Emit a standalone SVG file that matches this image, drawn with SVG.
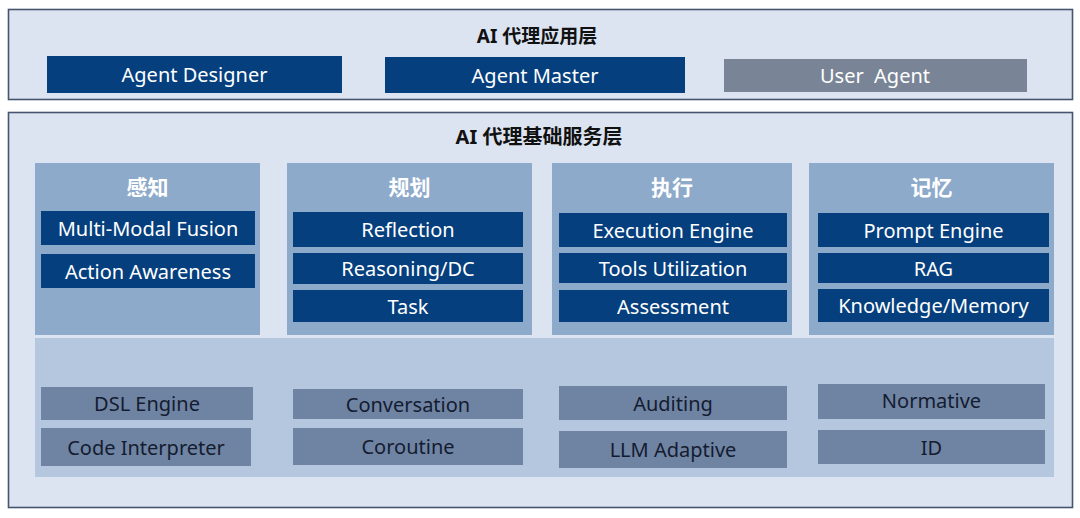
<svg xmlns="http://www.w3.org/2000/svg" width="1080" height="518" viewBox="0 0 1080 518">
<style>
.layer{fill:#dce4f1;stroke:#46556f;stroke-width:1.6}
.title{font-family:"Noto Sans","Noto Sans CJK SC",sans-serif;font-weight:bold;font-size:19px;fill:#111;text-anchor:middle;dominant-baseline:central}
.cat{fill:#8eaacb}
.cath{font-family:"Noto Sans CJK SC","Noto Sans",sans-serif;font-weight:bold;font-size:21px;fill:#fff;text-anchor:middle;dominant-baseline:central}
.dk{fill:#053f7e}
.gr{fill:#798596}
.lt{font-family:"Noto Sans",sans-serif;font-size:20px;fill:#fff;text-anchor:middle;dominant-baseline:central;white-space:pre}
.panel{fill:#b5c6df}
.lo{fill:#6f83a3}
.ltx{font-family:"Noto Sans",sans-serif;font-size:20px;fill:#141c30;text-anchor:middle;dominant-baseline:central}
</style>
<rect width="1080" height="518" fill="#ffffff"/>
<g id="app-layer">
<rect class="layer" x="8.5" y="9.5" width="1064" height="90"/>
<text class="title" x="537" y="36">AI 代理应用层</text>
</g>
<g id="agent-designer"><rect class="dk" x="47" y="56" width="295" height="37"/><text class="lt" x="194.5" y="74.5">Agent Designer</text></g>
<g id="agent-master"><rect class="dk" x="385" y="57" width="300" height="36"/><text class="lt" x="535" y="75">Agent Master</text></g>
<g id="user-agent"><rect class="gr" x="724" y="59" width="303" height="33"/><text class="lt" x="875" y="75.5" xml:space="preserve">User  Agent</text></g>
<g id="base-layer">
<rect class="layer" x="8.5" y="112.5" width="1064" height="395"/>
<text class="title" x="539" y="136" style="font-size:20px">AI 代理基础服务层</text>
</g>
<g id="lower-panel"><rect class="panel" x="35" y="338" width="1019" height="139"/></g>
<g id="perception">
<rect class="cat" x="35" y="163" width="225" height="172"/>
<text class="cath" x="147.5" y="186">感知</text>
</g>
<g id="multi-modal-fusion"><rect class="dk" x="41" y="211" width="214" height="34"/><text class="lt" x="148" y="228">Multi-Modal Fusion</text></g>
<g id="action-awareness"><rect class="dk" x="41" y="254" width="214" height="34"/><text class="lt" x="148" y="271">Action Awareness</text></g>
<g id="planning">
<rect class="cat" x="287" y="163" width="245" height="172"/>
<text class="cath" x="409.5" y="186">规划</text>
</g>
<g id="reflection"><rect class="dk" x="293" y="212" width="230" height="35"/><text class="lt" x="408" y="229.5">Reflection</text></g>
<g id="reasoning"><rect class="dk" x="293" y="253" width="230" height="31"/><text class="lt" x="408" y="268.5">Reasoning/DC</text></g>
<g id="task"><rect class="dk" x="293" y="290" width="230" height="32"/><text class="lt" x="408" y="306">Task</text></g>
<g id="execution">
<rect class="cat" x="552" y="163" width="240" height="172"/>
<text class="cath" x="672" y="186">执行</text>
</g>
<g id="execution-engine"><rect class="dk" x="559" y="213" width="228" height="34"/><text class="lt" x="673" y="230">Execution Engine</text></g>
<g id="tools-utilization"><rect class="dk" x="559" y="253" width="228" height="30"/><text class="lt" x="673" y="268">Tools Utilization</text></g>
<g id="assessment"><rect class="dk" x="559" y="290" width="228" height="32"/><text class="lt" x="673" y="306">Assessment</text></g>
<g id="memory">
<rect class="cat" x="809" y="163" width="245" height="172"/>
<text class="cath" x="931.5" y="186">记忆</text>
</g>
<g id="prompt-engine"><rect class="dk" x="818" y="213" width="231" height="34"/><text class="lt" x="933.5" y="230">Prompt Engine</text></g>
<g id="rag"><rect class="dk" x="818" y="253" width="231" height="30"/><text class="lt" x="933.5" y="268">RAG</text></g>
<g id="knowledge-memory"><rect class="dk" x="818" y="289" width="231" height="33"/><text class="lt" x="933.5" y="305.5">Knowledge/Memory</text></g>
<g id="dsl-engine"><rect class="lo" x="41" y="387" width="212" height="33"/><text class="ltx" x="147" y="403.5">DSL Engine</text></g>
<g id="code-interpreter"><rect class="lo" x="41" y="428" width="210" height="38"/><text class="ltx" x="146" y="447">Code Interpreter</text></g>
<g id="conversation"><rect class="lo" x="293" y="389" width="230" height="30"/><text class="ltx" x="408" y="404">Conversation</text></g>
<g id="coroutine"><rect class="lo" x="293" y="428" width="230" height="37"/><text class="ltx" x="408" y="446">Coroutine</text></g>
<g id="auditing"><rect class="lo" x="559" y="386" width="228" height="34"/><text class="ltx" x="673" y="403">Auditing</text></g>
<g id="llm-adaptive"><rect class="lo" x="559" y="431" width="228" height="37"/><text class="ltx" x="673" y="449.5">LLM Adaptive</text></g>
<g id="normative"><rect class="lo" x="818" y="384" width="227" height="35"/><text class="ltx" x="931.5" y="400">Normative</text></g>
<g id="id"><rect class="lo" x="818" y="430" width="227" height="34"/><text class="ltx" x="931.5" y="447">ID</text></g>
<g id="connectors"></g>
</svg>
